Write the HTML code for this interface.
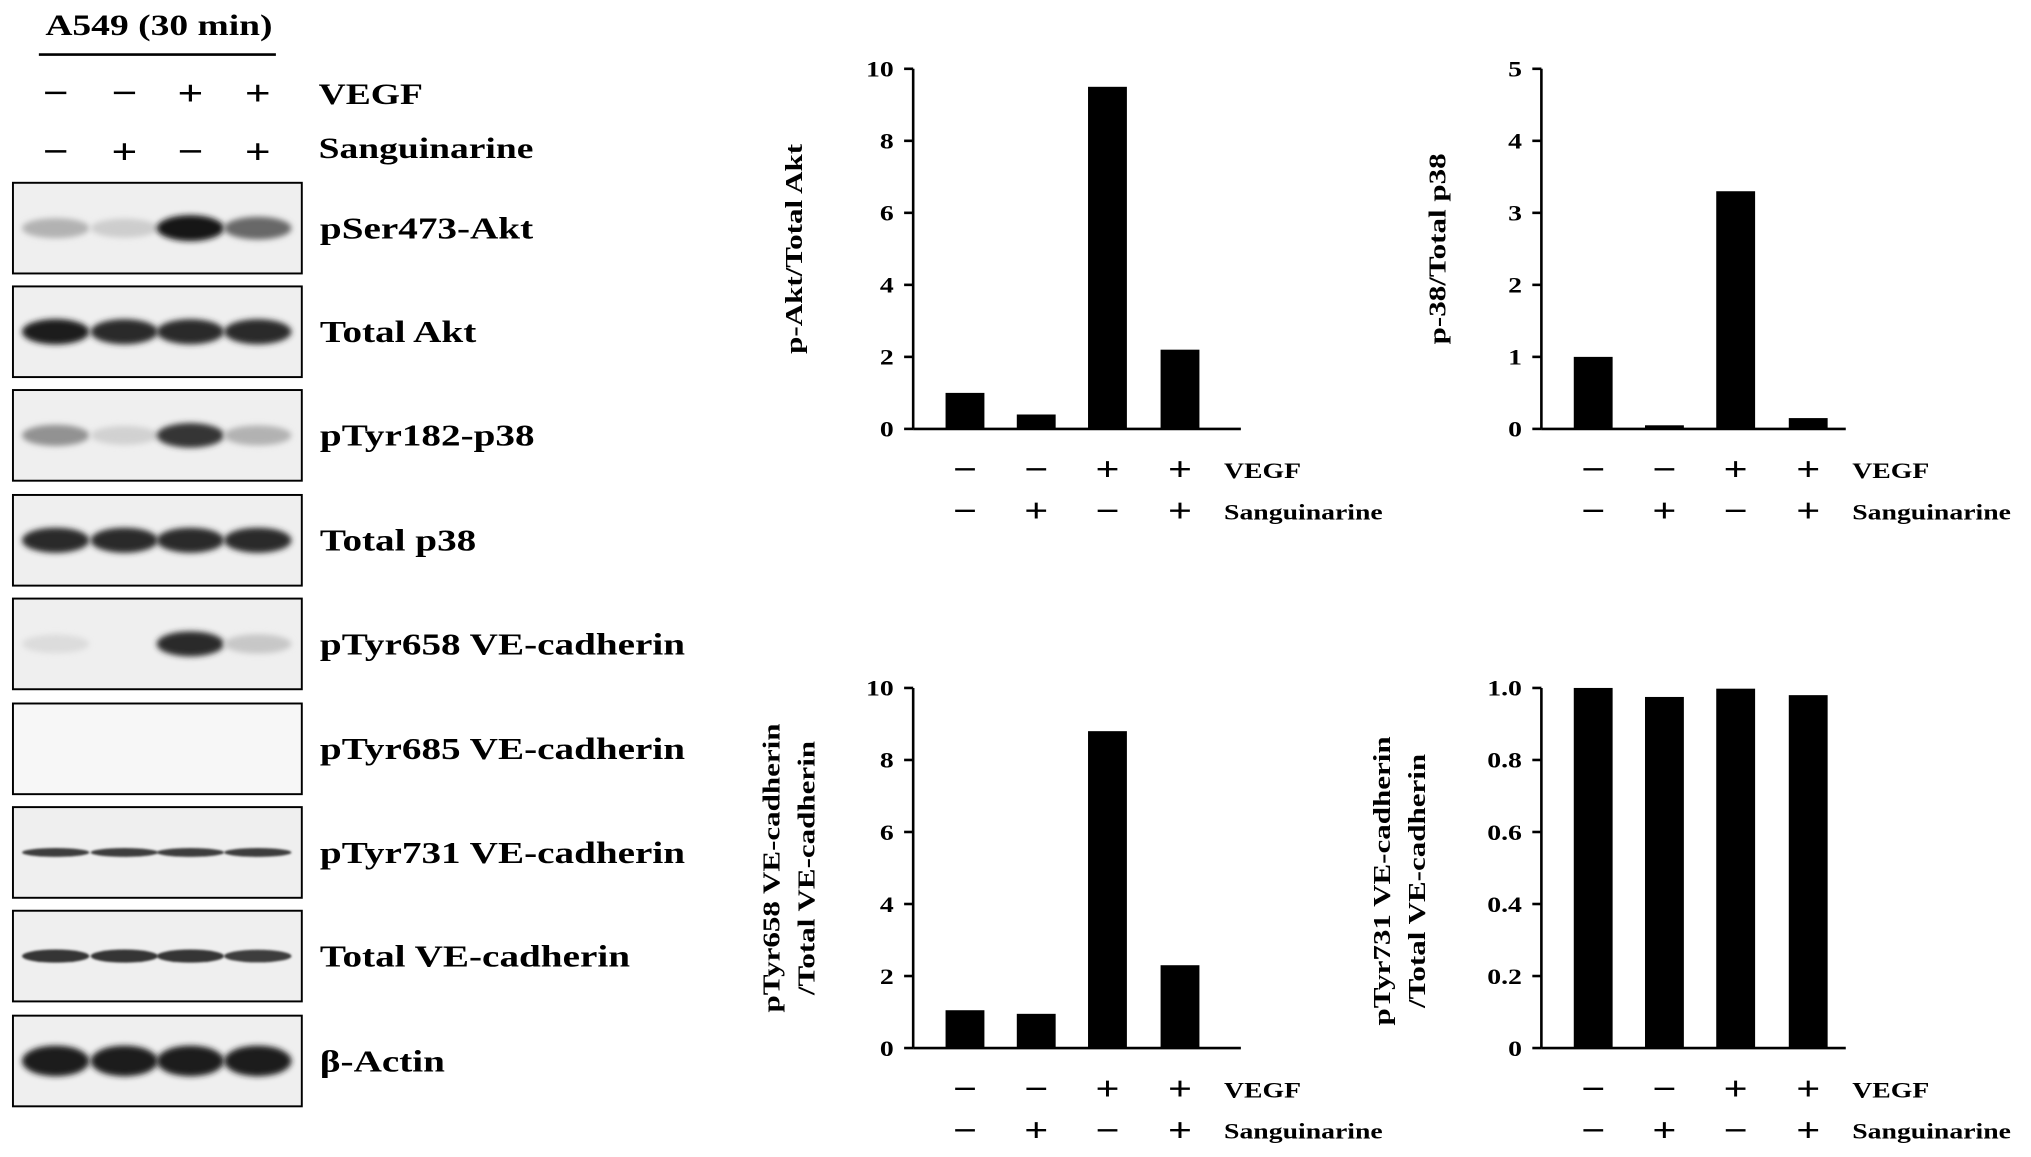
<!DOCTYPE html>
<html><head><meta charset="utf-8"><style>
html,body{margin:0;padding:0;background:#fff;}
svg{display:block;}
text{font-family:"Liberation Serif",serif;font-weight:bold;fill:#000;}
</style></head><body>
<svg id="fig" width="2031" height="1157" viewBox="0 0 1568 893" xmlns="http://www.w3.org/2000/svg">
<defs>
<filter id="blur" x="-50%" y="-200%" width="200%" height="500%"><feGaussianBlur stdDeviation="2.2"/></filter>
<filter id="blur2" x="-50%" y="-200%" width="200%" height="500%"><feGaussianBlur stdDeviation="0.8"/></filter>
</defs>
<g id="blots"></g>
<g id="charts"></g>
</svg>
<script>
// ---- data ----
const conditions = ["ctrl","sang","vegf","vegf+sang"];
const vegfSigns = ["−","−","+","+"];
const sangSigns = ["−","+","−","+"];
const blotLabels = ["pSer473-Akt","Total Akt","pTyr182-p38","Total p38","pTyr658 VE-cadherin","pTyr685 VE-cadherin","pTyr731 VE-cadherin","Total VE-cadherin","β-Actin"];
const blotIntensity = [[0.25,0.12,1.0,0.6],[0.95,0.9,0.9,0.9],[0.4,0.1,0.85,0.25],[0.9,0.9,0.9,0.9],[0.05,0.0,0.9,0.15],[0,0,0,0],[0.8,0.8,0.8,0.8],[0.85,0.85,0.85,0.8],[0.95,0.95,0.95,0.95]];
const aktValues = [1.0,0.4,9.5,2.2];
const p38Values = [1.0,0.05,3.3,0.15];
const y658Values = [1.05,0.95,8.8,2.3];
const y731Values = [1.0,0.975,0.998,0.98];
const aktTicks = ["0","2","4","6","8","10"];
const p38Ticks = ["0","1","2","3","4","5"];
const y658Ticks = ["0","2","4","6","8","10"];
const y731Ticks = ["0","0.2","0.4","0.6","0.8","1.0"];

const NS="http://www.w3.org/2000/svg";
function mk(tag,attrs,parent,txt){const e=document.createElementNS(NS,tag);for(const k in attrs)e.setAttribute(k,attrs[k]);if(txt!==undefined)e.textContent=txt;parent.appendChild(e);return e;}

// ---- blots ----
const B=document.getElementById('blots');
const lanes=[43,96,147,199];
let t=mk('text',{x:35,y:27,'font-size':23},B,"A549 (30 min)");


mk('line',{x1:30,y1:42,x2:213,y2:42,stroke:'#000','stroke-width':2},B);
lanes.forEach((x,i)=>{
  let a=mk('text',{x:x,y:81,'font-size':28,'text-anchor':'middle'},B,vegfSigns[i]);
  
  let b=mk('text',{x:x,y:126,'font-size':28,'text-anchor':'middle'},B,sangSigns[i]);
  
});
mk('text',{x:246,y:80,'font-size':23},B,"VEGF");
mk('text',{x:246,y:122,'font-size':23},B,"Sanguinarine");
const rowTops=[141,221,301,382,462,543,623,703,784];
blotLabels.forEach((lab,r)=>{
  const y0=rowTops[r];
  const g=mk('g',{},B);
  
  
  mk('rect',{x:10,y:y0,width:223,height:70,fill:r===5?'#f7f7f7':'#efefef',stroke:'#000','stroke-width':1.5},g);
  blotIntensity[r].forEach((v,i)=>{
    if(v<=0)return;
    const thin=(r===6||r===7);
    const h=thin?(r===6?2:5):(r===8?18:14);
    const grey=Math.round(20+(1-v)*210);
    mk('ellipse',{cx:lanes[i],cy:y0+35,rx:26,ry:h/2+v*3,fill:`rgb(${grey},${grey},${grey})`,filter:thin?'url(#blur2)':'url(#blur)'},g);
  });
  mk('text',{x:247,y:y0+43,'font-size':24},g,lab);
});

// ---- charts ----
const C=document.getElementById('charts');
function chart(cfg){
  const g=mk('g',{},C);
  
  
  const {x0,yTop,yBot,xEnd,max,ticks,values}=cfg;
  const ys=v=>yBot-(v/max)*(yBot-yTop);
  const centers=[40,95,150,206].map(d=>x0+d);
  mk('line',{x1:x0,y1:yTop,x2:x0,y2:yBot,stroke:'#000','stroke-width':2},g);
  mk('line',{x1:x0,y1:yBot,x2:xEnd,y2:yBot,stroke:'#000','stroke-width':2},g);
  ticks.forEach((tl,i)=>{
    const v=max*i/(ticks.length-1);const y=ys(v);
    mk('line',{x1:x0-7,y1:y,x2:x0,y2:y,stroke:'#000','stroke-width':2},g);
    const tt=mk('text',{x:x0-15,y:y+6,'font-size':17,'text-anchor':'end'},g,tl);
    
  });
  values.forEach((v,i)=>{
    const r=mk('rect',{x:centers[i]-15,y:ys(v),width:30,height:yBot-ys(v),fill:'#000'},g);
    
    
    mk('text',{x:centers[i],y:yBot+40,'font-size':26,'text-anchor':'middle'},g,vegfSigns[i]);
    mk('text',{x:centers[i],y:yBot+72,'font-size':26,'text-anchor':'middle'},g,sangSigns[i]);
  });
  mk('text',{x:x0+240,y:yBot+38,'font-size':17},g,"VEGF");
  mk('text',{x:x0+240,y:yBot+70,'font-size':17},g,"Sanguinarine");
  cfg.ylabel.forEach((l,i)=>{
    const lx=cfg.lx+i*27, ly=(yTop+yBot)/2-cfg.lyOff;
    const yl=mk('text',{x:lx,y:ly,'font-size':19,'text-anchor':'middle',transform:`rotate(-90 ${lx} ${ly})`},g,l);
    
  });
}
chart({name:'chart-p-akt',x0:705,yTop:53,yBot:331,xEnd:958,max:10,ticks:aktTicks,values:aktValues,ylabel:["p-Akt/Total Akt"],lx:619,lyOff:0});
chart({name:'chart-p-p38',x0:1190,yTop:53,yBot:331,xEnd:1425,max:5,ticks:p38Ticks,values:p38Values,ylabel:["p-38/Total p38"],lx:1116,lyOff:0});
chart({name:'chart-ptyr658',x0:705,yTop:531,yBot:809,xEnd:958,max:10,ticks:y658Ticks,values:y658Values,ylabel:["pTyr658 VE-cadherin","/Total VE-cadherin"],lx:602,lyOff:0});
chart({name:'chart-ptyr731',x0:1190,yTop:531,yBot:809,xEnd:1425,max:1,ticks:y731Ticks,values:y731Values,ylabel:["pTyr731 VE-cadherin","/Total VE-cadherin"],lx:1073,lyOff:-10});

// widen all text horizontally to match the reference typeface width
document.querySelectorAll('#fig text').forEach(el=>{
  const w=el.getComputedTextLength();
  el.setAttribute('textLength',(w*1.26).toFixed(1));
  el.setAttribute('lengthAdjust','spacingAndGlyphs');
});
</script>
</body></html>
